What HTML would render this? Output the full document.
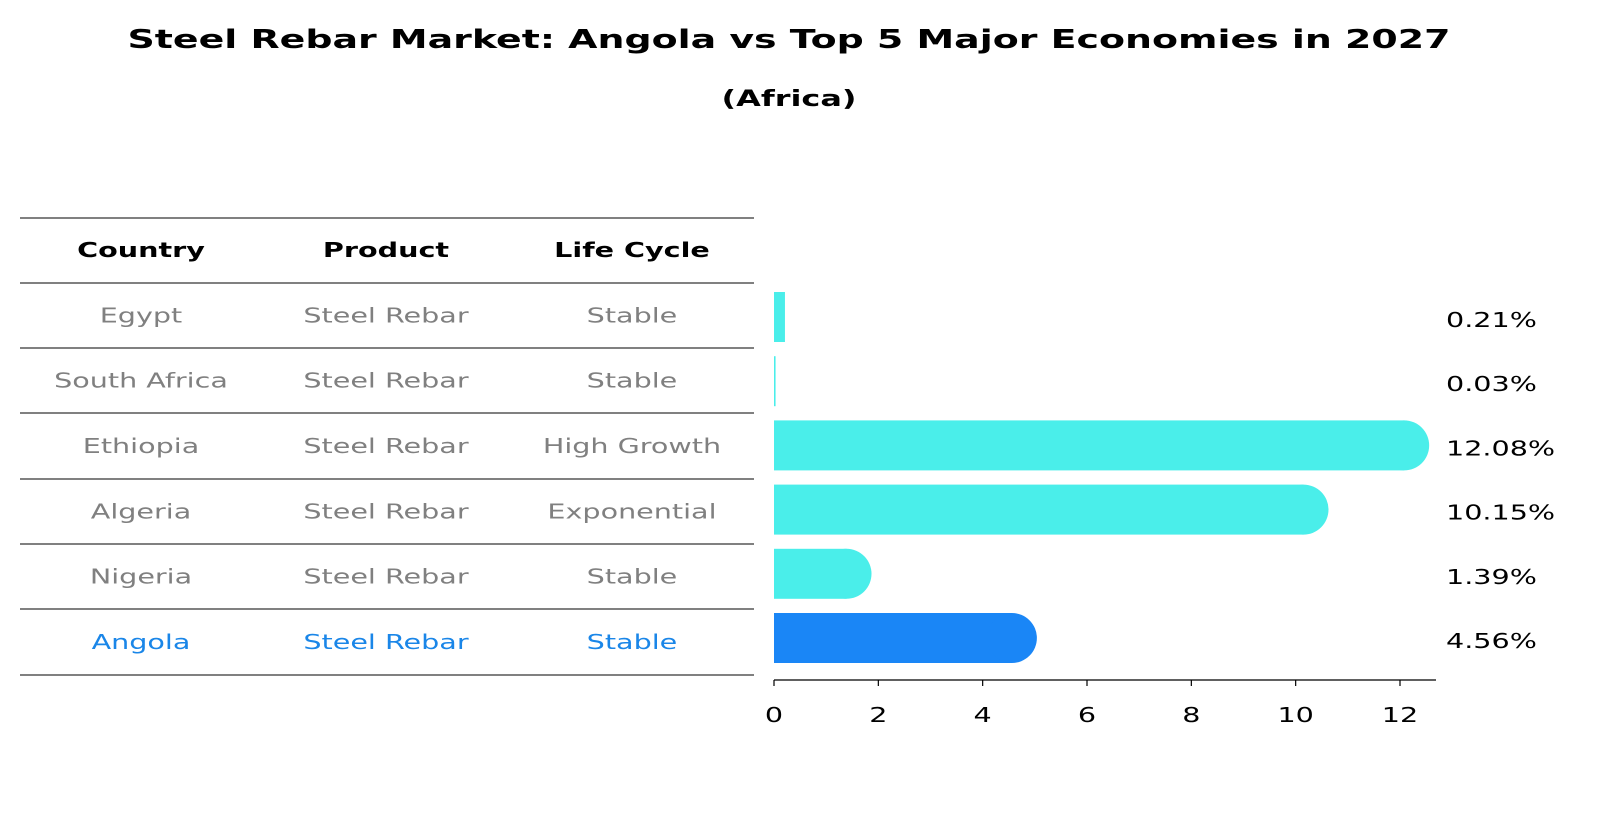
<!DOCTYPE html>
<html><head><meta charset="utf-8"><style>
body{margin:0;background:#fff;font-family:"Liberation Sans","DejaVu Sans",sans-serif;}
svg text{font-family:"DejaVu Sans","Liberation Sans",sans-serif;}
</style></head><body>
<svg width="1604" height="823" xmlns="http://www.w3.org/2000/svg">
<rect width="1604" height="823" fill="#fff"/>
<text x="789" y="48" text-anchor="middle" font-size="26" font-weight="bold" textLength="1323" lengthAdjust="spacingAndGlyphs">Steel Rebar Market: Angola vs Top 5 Major Economies in 2027</text>
<text x="789" y="106" text-anchor="middle" font-size="22" font-weight="bold" textLength="135" lengthAdjust="spacingAndGlyphs">(Africa)</text>
<g id="table"></g>
<g id="bars"></g>
</svg>
<script>
const countries=["Egypt","South Africa","Ethiopia","Algeria","Nigeria","Angola"];
const products=["Steel Rebar","Steel Rebar","Steel Rebar","Steel Rebar","Steel Rebar","Steel Rebar"];
const lifecycles=["Stable","Stable","High Growth","Exponential","Stable","Stable"];
const values=[0.21,0.03,12.08,10.15,1.39,4.56];
const valueLabels=["0.21%","0.03%","12.08%","10.15%","1.39%","4.56%"];
const ticks=[0,2,4,6,8,10,12];
const NS="http://www.w3.org/2000/svg";
const K=1.43;
function mk(tag,attrs,parent,text){const e=document.createElementNS(NS,tag);for(const k in attrs)e.setAttribute(k,attrs[k]);if(text!==undefined)e.textContent=text;parent.appendChild(e);return e;}
function stretch(t){try{const w=t.getComputedTextLength();if(w>0){t.setAttribute('textLength',(w*K).toFixed(1));t.setAttribute('lengthAdjust','spacingAndGlyphs');}}catch(e){}}
const tbl=document.getElementById('table');
const lineYs=[218,283,348,413,479,544,609,675];
lineYs.forEach((y,i)=>{const l=mk('line',{x1:20,x2:754,y1:y,y2:y,stroke:'#000','stroke-width':1},tbl);

});
const colX=[141,386,632];
["Country","Product","Life Cycle"].forEach((h,i)=>{const t=mk('text',{x:colX[i],y:257,'text-anchor':'middle','font-size':20,'font-weight':'bold'},tbl,h);


stretch(t);});
countries.forEach((c,r)=>{const y=(lineYs[r+1]+lineYs[r+2])/2+7;const col=c==="Angola"?'#1a86e8':'#808080';
[c,products[r],lifecycles[r]].forEach((v,i)=>{const t=mk('text',{x:colX[i],y:y,'text-anchor':'middle','font-size':20,fill:col},tbl,v);


stretch(t);});});
const g=document.getElementById('bars');
const x0=774,pxPer=(1400-774)/12;
const xs=v=>x0+v*pxPer;
const yc=i=>317+i*64.2;
const bh=50;
values.forEach((v,i)=>{const col=countries[i]==="Angola"?'#1a86f6':'#4aeeea';
const w=xs(v)-x0;const y=yc(i);
const r=mk('rect',{x:x0,y:y-bh/2,width:Math.max(w,1.5),height:bh,fill:col},g);


if(w>40){const c=mk('circle',{cx:xs(v),cy:y,r:bh/2,fill:col},g);

}
const t=mk('text',{x:1446,y:y+10,'font-size':20},g,valueLabels[i]);


stretch(t);});
const ax=mk('line',{x1:x0,x2:1436,y1:680,y2:680,stroke:'#000','stroke-width':1.2},g);


ticks.forEach(tv=>{const tk=mk('line',{x1:xs(tv),x2:xs(tv),y1:680,y2:686,stroke:'#000','stroke-width':1.2},g);


const t=mk('text',{x:xs(tv),y:722,'text-anchor':'middle','font-size':20},g,String(tv));


stretch(t);});
</script>
</body></html>
